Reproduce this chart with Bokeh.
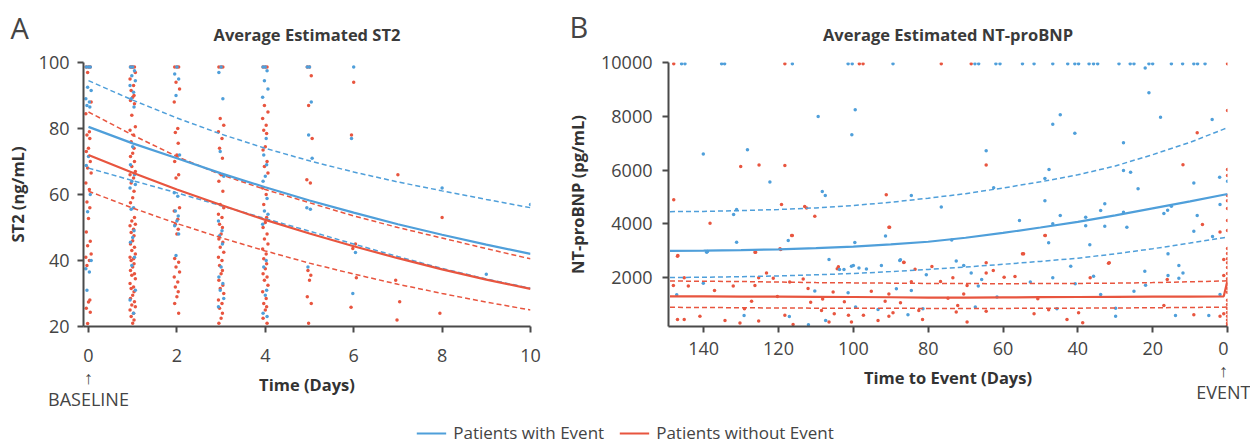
from bokeh.plotting import figure
from bokeh.layouts import column, row
from bokeh.models import Range1d, Label, Legend, LegendItem, FixedTicker
from bokeh.embed import file_html
from bokeh.resources import INLINE

BLUE = "#4F9FDA"
RED = "#E8553F"
AX = "#4a4a4a"
TXT = "#444444"
FONT = "Open Sans"

# ---------------- Panel A: ST2 ----------------
st2_title = "Average Estimated ST2"
st2_days = [0, 1, 2, 3, 4, 5, 6, 7, 8, 9, 10]
st2_evt_mean = [80.5, 75.5, 71.0, 66.4, 62.2, 58.2, 54.5, 51.0, 47.8, 44.8, 42.0]
st2_evt_upper = [94.5, 88.6, 83.2, 78.3, 74.0, 70.2, 66.8, 63.8, 61.1, 58.5, 56.0]
st2_evt_lower = [68.0, 64.2, 60.5, 56.6, 52.7, 48.9, 45.0, 41.2, 37.6, 34.4, 31.6]
st2_noevt_mean = [72.0, 66.6, 61.5, 56.8, 52.3, 48.2, 44.3, 40.7, 37.3, 34.2, 31.4]
st2_noevt_upper = [85.0, 78.0, 71.5, 66.0, 61.5, 57.5, 53.5, 50.0, 46.8, 43.6, 40.5]
st2_noevt_lower = [61.0, 55.9, 51.2, 46.9, 42.9, 39.2, 35.9, 32.8, 30.0, 27.4, 25.0]

st2_evt_points = {
    0: [98.6, 98.6, 98.6, 92.5, 91.5, 89, 88, 87, 86.5, 71.5, 68.8, 60, 54.8, 40, 37.5, 36.5, 31],
    1: [98.6, 98.6, 97.5, 96, 94.5, 93, 91, 89, 86.5, 74.5, 69, 66, 64, 63, 62, 56, 55.5, 49, 47,
        45.5, 41, 38.5, 31, 28, 24],
    2: [98.6, 96.5, 95, 90, 72, 60.5, 59.5, 55, 53.5, 52, 50.5, 48, 41.5],
    3: [98.6, 97, 89, 73, 65.5, 52, 49, 47.5, 45, 38, 35, 33, 31, 28.5, 26],
    4: [98.6, 98.6, 97.5, 94.5, 92, 89.5, 77, 72, 69, 65.5, 64, 58.8, 55, 54, 51, 40, 38, 31, 29.5, 24, 23],
    5: [98.6, 98.6, 88, 78, 71, 56, 55.5, 38],
    6: [98.6, 77, 42.4, 30],
    8: [62],
    9: [35.8],
    10: [57],
}
st2_noevt_points = {
    0: [98.6, 98.6, 98.6, 97, 88, 84.5, 79, 78, 77, 74, 73, 70, 68, 66.5, 63.5, 61.5, 57.7, 56, 52.7,
        48.6, 45.8, 44.5, 42, 41, 40, 38.5, 28, 27.4, 25.5, 24.3, 20.9],
    1: [98.6, 98.6, 98.6, 98.6, 97, 95, 93, 91.5, 90, 89.5, 88.5, 87.5, 84, 80.5, 79.5, 78, 76, 74,
        72.5, 71.5, 70, 68.5, 67, 66, 65, 63.5, 61, 59, 57.5, 53, 52, 51, 50.5, 49.5, 48.5, 47.5, 46,
        45, 44, 43, 42, 41, 40.5, 40, 39, 38, 37, 36, 35.5, 34.5, 33, 32, 31.5, 30.5, 29.5, 28.5,
        27.5, 26.5, 26, 25, 24, 23, 22, 21],
    2: [98.6, 98.6, 98.6, 94, 92, 88, 80, 78.8, 75.5, 72, 70, 66, 65, 56, 55, 52.5, 51, 49.5, 48,
        40.6, 39.5, 38, 36.5, 35, 33.5, 32, 30.5, 29, 27, 24],
    3: [98.6, 98.6, 98.6, 83, 81, 79, 77, 74, 71, 66, 64, 61, 57, 56, 54, 53, 51, 50, 48, 46.5, 45.5,
        44, 42.5, 41, 40, 38.5, 37, 36, 34, 32.5, 31.5, 30, 28, 27, 25.5, 24, 22.5, 21],
    4: [98.6, 98.6, 98.6, 87, 85, 83, 81, 79.5, 78.5, 74.5, 73.5, 70, 68.5, 66.5, 62, 60, 57, 53,
        51.5, 50, 48, 46.5, 45, 43.5, 42, 40.5, 39, 37.5, 36, 35, 34, 32.5, 30.5, 28.5, 27, 26, 25,
        22.5, 21],
    5: [98.6, 98.6, 96, 87, 77, 64.5, 63.5, 37, 35.5, 34, 29, 27, 21],
    6: [94, 78, 45, 43.6, 34.8, 25.8],
    7: [66, 34, 27.5, 22],
    8: [53, 24],
}
st2_x_ticks = [0, 2, 4, 6, 8, 10]
st2_y_ticks = [20, 40, 60, 80, 100]

# ---------------- Panel B: NT-proBNP ----------------
bnp_title = "Average Estimated NT-proBNP"
bnp_days = [149, 140, 130, 120, 110, 100, 90, 80, 70, 60, 50, 40, 30, 20, 10, 1, 0]
bnp_evt_mean = [2990, 3000, 3020, 3050, 3090, 3150, 3230, 3330, 3480, 3660, 3860, 4070, 4310, 4570, 4830, 5080, 5100]
bnp_evt_upper = [4450, 4460, 4490, 4530, 4590, 4680, 4800, 4950, 5120, 5330, 5560, 5820, 6150, 6570, 7030, 7520, 7570]
bnp_evt_lower = [2000, 2010, 2030, 2060, 2100, 2150, 2220, 2300, 2390, 2490, 2600, 2720, 2880, 3070, 3280, 3480, 3500]
bnp_noevt_mean = [1300, 1295, 1290, 1285, 1280, 1275, 1265, 1250, 1250, 1260, 1270, 1275, 1280, 1285, 1290, 1300, 1890]
bnp_noevt_upper = [1870, 1860, 1850, 1830, 1810, 1800, 1790, 1780, 1775, 1770, 1775, 1780, 1790, 1810, 1840, 1870, 1880]
bnp_noevt_lower = [890, 885, 875, 865, 860, 860, 855, 850, 850, 850, 855, 860, 865, 875, 885, 895, 900]

bnp_evt_day = [145.9, 145, 135.2, 134.4, 116.3, 101.4, 100.3, 89.4, 67.5, 66.5, 61.9, 60.8, 54.8, 51.7,
               46.7, 42.7, 40.8, 39.8, 37, 35.8, 34.7, 29, 26, 25, 21, 20, 15, 12, 9, 8, 6, 22,
               140.1, 128.3, 109.4, 99.5, 100.4, 122.3, 108.3, 107.5, 84.5,
               21, 17.9, 4.1, 46.7, 44.7, 40.8, 27.8, 64.5, 47.7, 48.8, 27.8, 25.9, 2.1, 0, 9, 23.9, 62.5,
               132, 131.2, 131.2, 117.4, 139.2, 99.6, 91.4, 106.5, 87.6, 103.7, 98.5, 100,
               147.2, 140.1, 139, 129.2, 117.1, 112, 110.3, 107.4, 102.5, 100.5, 101.4, 99.4, 96.5, 93.4,
               92.5, 88.5, 87.4, 85.4, 84.5, 81.4, 80.5,
               72.5, 70.5, 68.5, 66.6, 65.7, 67.4, 61.6, 52.7, 46.7, 45.6, 41.9, 40.7, 35.8, 33.9, 29.9,
               29.9, 25, 22.1, 21.9, 15.9, 15.9, 13, 13, 11.9, 13.9, 5, 2, 4, 9,
               76.5, 55.6, 48.8, 46.7, 44.7, 37.9, 37.9, 33.9, 32.8, 32.8, 27.8, 26.9, 17, 16, 15, 8.1, 2,
               47.8, 73.7, 36.8]
bnp_evt_val = [9950] * 31 + [9800,
               6600, 6750, 7990, 8240, 7310, 5550, 5200, 5050, 5050,
               8870, 7960, 7880, 7700, 8060, 7370, 7010, 6720, 6020, 5680, 5980, 5920, 5730, 5580, 5520, 5300, 5340,
               4340, 4530, 3310, 3380, 2940, 3300, 3540, 2670, 2630, 2300, 2350, 2450,
               1360, 1790, 2970, 590, 550, 240, 1500, 400, 2300, 2420, 1430, 900, 2320, 810,
               2450, 1580, 2660, 610, 1520, 840, 2100,
               2610, 2450, 2170, 1680, 1930, 900, 1270, 1830, 1990, 840, 2420, 1770, 2050, 1370, 860,
               560, 1490, 2230, 1710, 2880, 2070, 1970, 2450, 2170, 590, 590, 1370, 3530, 3720,
               4620, 4120, 4860, 4000, 4310, 4240, 3930, 4490, 4740, 3910, 4430, 3870, 4380, 4500, 4650, 4310, 4720,
               3290, 3400, 3220]

bnp_noevt_day = [148, 118.3, 98.4, 97.4, 76.5, 68.5, 0,
                 130.1, 125.2, 118.3, 91.2, 148, 0, 8.1, 64.5, 11.9, 0, 0, 0,
                 138.3, 119.2, 113, 112.5, 110.3, 116.5, 119.6, 126.1, 146.9, 90.3, 86.5, 104,
                 147, 145.2, 148.1, 144.1, 137.1, 147, 145.2, 141, 134.3, 132.1, 126.3, 126.3, 127.2, 129.1,
                 130.3, 125.3, 123.2, 125.3, 121.4, 119.4, 120.3, 117, 116.3, 118.3, 116.1, 113.4, 112.1,
                 111.4, 108.2, 108.5, 105.4, 104.3, 106.5, 105.1, 102.4, 101.3, 100.5, 97.3, 95.2, 93.4,
                 91.5, 90.5, 90.5, 90.5, 89.4, 87.4, 86.5, 84.5, 83.5, 82.5, 81.5, 79, 76.7, 74.7,
                 73.4, 72.1, 70.5, 72.5, 69.6, 69.6, 64.5, 64.5, 64.5, 62.6, 59.7, 56.8, 54.8, 51.7, 50.7,
                 48.7, 47.8, 42.9, 39.8, 38.7, 36.7, 31.8, 17, 16.1, 9, 2, 1, 2, 1, 1,
                 48.8, 54.5, 6.7, 31.6,
                 0, 0, 0, 0, 0, 0, 0, 0, 0, 0, 0, 0, 0, 0, 0, 0, 0, 0, 0, 0, 0, 0]
bnp_noevt_val = [9950, 9950, 9950, 9950, 9950, 9950, 9950,
                 6130, 6190, 6170, 5080, 4890, 8210, 7390, 6190, 6200, 6020, 5800, 5050,
                 4020, 4720, 4640, 4590, 4280, 3560, 3070, 2940, 2820, 3870, 2560, 2400,
                 2790, 1990, 1700, 1680, 1520, 440, 440, 560, 400, 1680, 2940, 1700, 1120, 840,
                 310, 380, 2170, 1990, 1970, 3040, 1290, 1830, 3560, 600, 250, 1940, 1590,
                 1080, 1200, 770, 1460, 2330, 340, 650, 1100, 600, 340, 600, 1490, 400,
                 1120, 3870, 1390, 560, 690, 1060, 2570, 1840, 2310, 770, 440, 2410, 1850, 1230,
                 1990, 960, 1390, 720, 340, 1700, 2550, 2170, 740, 2260, 2010, 2040, 2880, 650, 1210,
                 3560, 800, 440, 690, 320, 1990, 2530, 960, 1930, 610, 560, 2670, 3690, 2070, 650,
                 3560, 2880, 3970, 2550,
                 4860, 4570, 4120, 3750, 3080, 2890, 2700, 2550, 2370, 2150, 1950, 1750, 1600, 1450, 1150,
                 1000, 850, 700, 560, 420, 300, 220]
bnp_x_ticks = [0, 20, 40, 60, 80, 100, 120, 140]
bnp_y_ticks = [2000, 4000, 6000, 8000, 10000]

jitter = [0.0, -0.05, 0.04, -0.02, 0.06, -0.06, 0.02, -0.035, 0.03]


def flatten(points):
    xs, ys = [], []
    for d, vals in points.items():
        for i, v in enumerate(vals):
            xs.append(d + jitter[i % len(jitter)])
            ys.append(v)
    return xs, ys


def style(p, xticks, yticks, xlab, ylab, x_std, y_std, xlab_std, ylab_std):
    p.outline_line_color = None
    p.xgrid.visible = False
    p.ygrid.visible = False
    p.xaxis.ticker = FixedTicker(ticks=xticks)
    p.yaxis.ticker = FixedTicker(ticks=yticks)
    p.xaxis.axis_label = xlab
    p.yaxis.axis_label = ylab
    for ax in (p.xaxis[0], p.yaxis[0]):
        ax.axis_line_color = AX
        ax.axis_line_width = 2
        ax.major_tick_line_color = AX
        ax.major_tick_line_width = 2
        ax.major_tick_out = 6
        ax.major_tick_in = 0
        ax.minor_tick_line_color = None
        ax.major_label_text_font = FONT
        ax.major_label_text_font_size = "18px"
        ax.major_label_text_color = TXT
        ax.axis_label_text_font = FONT
        ax.axis_label_text_font_size = "16.5px"
        ax.axis_label_text_font_style = "bold"
        ax.axis_label_text_color = "#333333"
    p.xaxis.major_label_text_line_height = 0.92
    p.xaxis.major_label_standoff = x_std
    p.yaxis.major_label_standoff = y_std
    p.xaxis.axis_label_standoff = xlab_std
    p.yaxis.axis_label_standoff = ylab_std


HEADER_H = 50

# ---------- Header: panel letters and panel titles ----------
ph = figure(width=1250, height=HEADER_H, min_border=0, toolbar_location=None, output_backend="svg",
            x_axis_type=None, y_axis_type=None, x_range=Range1d(0, 1250), y_range=Range1d(0, HEADER_H))
ph.outline_line_color = None
ph.xgrid.visible = False
ph.ygrid.visible = False
for txt, x, y in (("A", 10, HEADER_H - 27), ("B", 569, HEADER_H - 26)):
    ph.add_layout(Label(x=x, y=y, x_units="screen", y_units="screen", text=txt, text_font=FONT,
                        text_font_size="29px", text_color=TXT, text_align="left",
                        text_baseline="middle"))
for txt, x in ((st2_title, 306.5), (bnp_title, 947.5)):
    ph.add_layout(Label(x=x, y=HEADER_H - 34, x_units="screen", y_units="screen", text=txt,
                        text_font=FONT, text_font_size="16.5px", text_font_style="bold",
                        text_color="#3a3a3a", text_align="center", text_baseline="middle"))

TOP = 62 - HEADER_H

# ---------- Figure A ----------
pa = figure(width=555, height=410 - HEADER_H, frame_width=447, frame_height=264,
            min_border_left=83, min_border_right=25, min_border_top=TOP, min_border_bottom=84,
            x_range=Range1d(-0.113, 10), y_range=Range1d(20, 100),
            toolbar_location=None, output_backend="svg")
style(pa, st2_x_ticks, st2_y_ticks, "Time (Days)", "ST2 (ng/mL)", 10, 8, -41, 7)
pa.xaxis.major_label_overrides = {0: "0\n\u2191\nBASELINE"}

ex, ey = flatten(st2_evt_points)
nx, ny = flatten(st2_noevt_points)
pa.scatter(nx, ny, size=3.5, color=RED, line_color=None)
pa.scatter(ex, ey, size=3.5, color=BLUE, line_color=None)
for vals, col in ((st2_evt_upper, BLUE), (st2_evt_lower, BLUE), (st2_noevt_upper, RED), (st2_noevt_lower, RED)):
    pa.line(st2_days, vals, color=col, line_width=1.5, line_dash="5 3")
pa.line(st2_days, st2_evt_mean, color=BLUE, line_width=2.2)
pa.line(st2_days, st2_noevt_mean, color=RED, line_width=2.2)

# ---------- Figure B ----------
pb = figure(width=695, height=410 - HEADER_H, frame_width=559, frame_height=264,
            min_border_left=113, min_border_right=23, min_border_top=TOP, min_border_bottom=84,
            x_range=Range1d(149.4, 0), y_range=Range1d(177, 10000),
            toolbar_location=None, output_backend="svg")
style(pb, bnp_x_ticks, bnp_y_ticks, "Time to Event (Days)", "NT-proBNP (pg/mL)", 3, 10, -41, 9)
pb.xaxis.major_label_overrides = {0: "0\n\u2191\nEVENT"}

pb.scatter(bnp_noevt_day, bnp_noevt_val, size=3.5, color=RED, line_color=None)
pb.scatter(bnp_evt_day, bnp_evt_val, size=3.5, color=BLUE, line_color=None)
for vals, col in ((bnp_evt_upper, BLUE), (bnp_evt_lower, BLUE), (bnp_noevt_upper, RED), (bnp_noevt_lower, RED)):
    pb.line(bnp_days, vals, color=col, line_width=1.5, line_dash="5 3")
pb.line(bnp_days, bnp_evt_mean, color=BLUE, line_width=2.2)
pb.line(bnp_days, bnp_noevt_mean, color=RED, line_width=2.2)

# ---------- Legend ----------
pl = figure(width=1250, height=34, min_border=0, toolbar_location=None, output_backend="svg",
            x_axis_type=None, y_axis_type=None)
pl.outline_line_color = None
pl.xgrid.visible = False
pl.ygrid.visible = False
r1 = pl.line([0], [0], color=BLUE, line_width=2)
r2 = pl.line([0], [0], color=RED, line_width=2)
legend = Legend(items=[LegendItem(label="Patients with Event", renderers=[r1]),
                       LegendItem(label="Patients without Event", renderers=[r2])],
                orientation="horizontal", location="bottom_center", border_line_color=None,
                background_fill_alpha=0, label_text_font=FONT, label_text_font_size="17px",
                label_text_color=TXT, glyph_width=30, label_standoff=7, spacing=15,
                padding=0, margin=0, label_height=20)
pl.add_layout(legend, "center")

layout = column(ph, row(pa, pb), pl)
open("out.html", "w").write(file_html(layout, INLINE))
